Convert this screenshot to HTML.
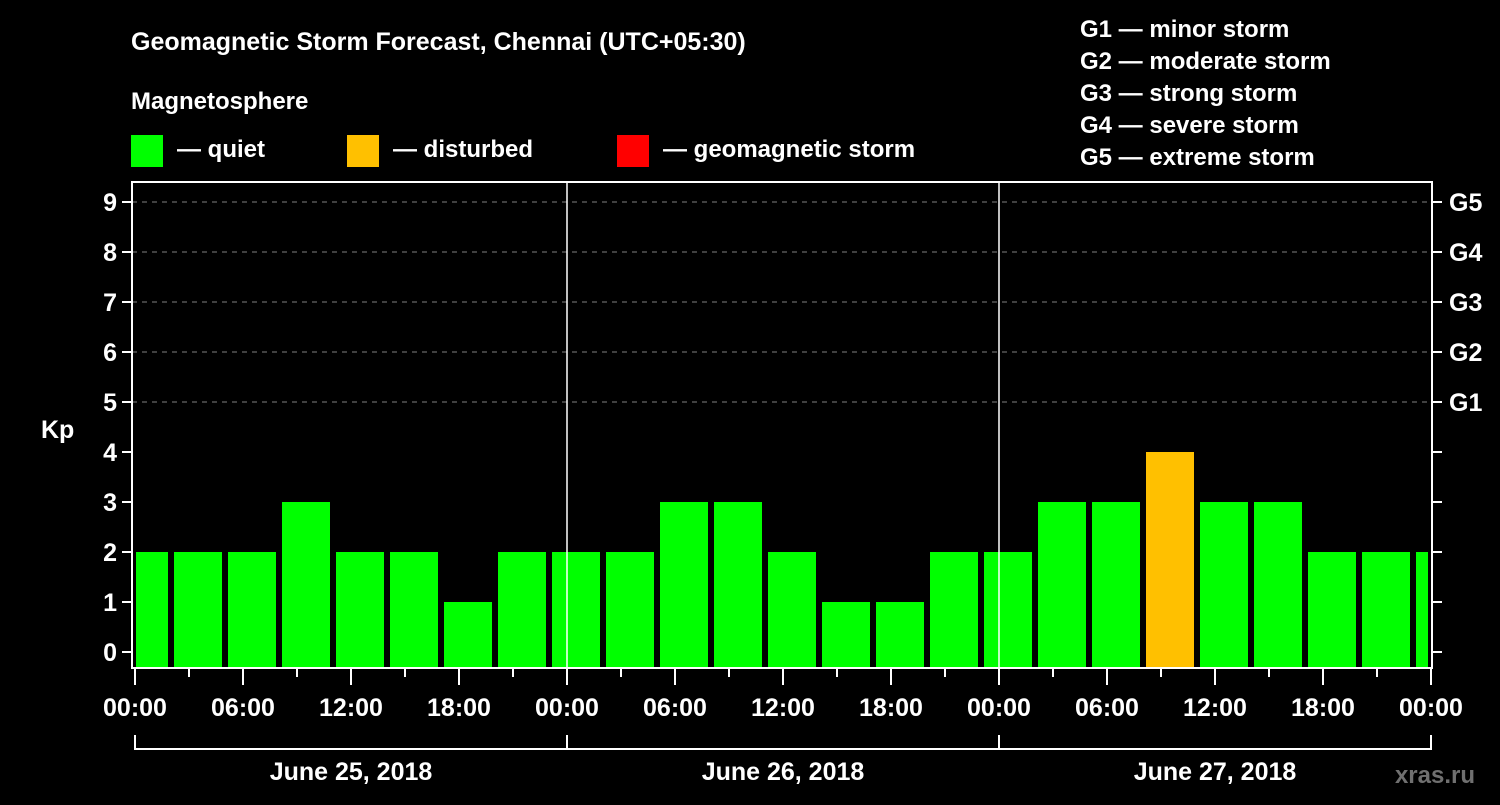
<!DOCTYPE html>
<html><head><meta charset="utf-8"><style>
body{margin:0;background:#000;width:1500px;height:800px;overflow:hidden}
svg text{font-family:"Liberation Sans",Arial,sans-serif;font-weight:bold;fill:#fff}
</style></head><body>
<svg id="c" width="1500" height="800" xmlns="http://www.w3.org/2000/svg">
<rect width="1500" height="800" fill="#000"/>
<text x="131" y="50" font-size="25">Geomagnetic Storm Forecast, Chennai (UTC+05:30)</text>
<text x="131" y="109" font-size="24">Magnetosphere</text>
<g><rect x="131" y="135" width="32" height="32" fill="#00ff00"/><text x="177" y="157" font-size="24">— quiet</text></g>
<g><rect x="347" y="135" width="32" height="32" fill="#ffc000"/><text x="393" y="157" font-size="24">— disturbed</text></g>
<g><rect x="617" y="135" width="32" height="32" fill="#ff0000"/><text x="663" y="157" font-size="24">— geomagnetic storm</text></g>
<g font-size="24">
<text x="1080" y="37">G1 — minor storm</text>
<text x="1080" y="69">G2 — moderate storm</text>
<text x="1080" y="101">G3 — strong storm</text>
<text x="1080" y="133">G4 — severe storm</text>
<text x="1080" y="165">G5 — extreme storm</text>
</g>
<text x="41" y="438" font-size="25">Kp</text>
<text x="1475" y="783" font-size="24" text-anchor="end" style="fill:#707070">xras.ru</text>
<g id="plot"></g>
</svg>
<script>
const kpValues=[2,2,2,3,2,2,1,2,2,2,3,3,2,1,1,2,2,3,3,4,3,3,2,2,2];
const dayLabels=["June 25, 2018","June 26, 2018","June 27, 2018"];
const yTicks=[0,1,2,3,4,5,6,7,8,9];
const gLabels=["G1","G2","G3","G4","G5"];
const xTickLabels=["00:00","06:00","12:00","18:00"];
const firstBinHour=-1;

const NS="http://www.w3.org/2000/svg";
const X0=135,PXH=18,Y0=652,PXK=50,L=132,R=1432,T=182,B=668;
const xs=h=>X0+h*PXH, ys=k=>Y0-k*PXK;
const g=document.getElementById('plot');
function mk(t,a,p){const e=document.createElementNS(NS,t);for(const k in a)e.setAttribute(k,a[k]);(p||g).appendChild(e);return e;}
const clip=mk('clipPath',{id:'pc'});mk('rect',{x:L,y:T,width:R-L,height:B-T},clip);
// grid
yTicks.forEach(k=>{
 if(k>=5){const l=mk('line',{x1:L,x2:R,y1:ys(k),y2:ys(k),stroke:'#808080','stroke-width':1,'stroke-dasharray':'5,5'});
 
 }
 const t1=mk('line',{x1:L-10,x2:L,y1:ys(k),y2:ys(k),stroke:'#fff','stroke-width':2});
 
 
 const t2=mk('line',{x1:R,x2:R+10,y1:ys(k),y2:ys(k),stroke:'#fff','stroke-width':2});
 
 
 const tx=mk('text',{x:L-15,y:ys(k)+9,'font-size':25,'text-anchor':'end'});tx.textContent=k;
 
 
 if(k>=5){const gt=mk('text',{x:R+17,y:ys(k)+9,'font-size':25});gt.textContent=gLabels[k-5];
 
 }
});
// bars
const bg=mk('g',{'clip-path':'url(#pc)'});
kpValues.forEach((v,i)=>{
 const h0=firstBinHour+i*3;
 const x1=Math.max(xs(h0)+3,X0+1), x2=Math.min(xs(h0+3)-3,R-4);
 const col=v>=5?'#ff0000':(v>=4?'#ffc000':'#00ff00');
 const r=mk('rect',{x:x1,y:ys(v),width:x2-x1,height:B-ys(v),fill:col},bg);
 
 
});
// day separators
[1,2].forEach(d=>{const l=mk('line',{x1:xs(d*24),x2:xs(d*24),y1:T,y2:B,stroke:'#fff','stroke-width':1.5});
 
 });
// frame
const f=mk('rect',{x:L,y:T,width:R-L,height:B-T,fill:'none',stroke:'#fff','stroke-width':2});


// x ticks
for(let h=0;h<=72;h+=3){
 const major=h%6===0;
 const l=mk('line',{x1:xs(h),x2:xs(h),y1:B,y2:B+(major?17:9),stroke:'#fff','stroke-width':2});
 
 
 if(major){const t=mk('text',{x:xs(h),y:716,'font-size':25,'text-anchor':'middle'});t.textContent=xTickLabels[(h%24)/6];
 
 }
}
// day brackets
const bp=mk('path',{d:`M${xs(0)} 735V749H${xs(72)}V735M${xs(24)} 735V749M${xs(48)} 735V749`,fill:'none',stroke:'#fff','stroke-width':2});


dayLabels.forEach((d,i)=>{const t=mk('text',{x:xs(i*24+12),y:780,'font-size':25,'text-anchor':'middle'});t.textContent=d;
 
 });
</script>
</body></html>
